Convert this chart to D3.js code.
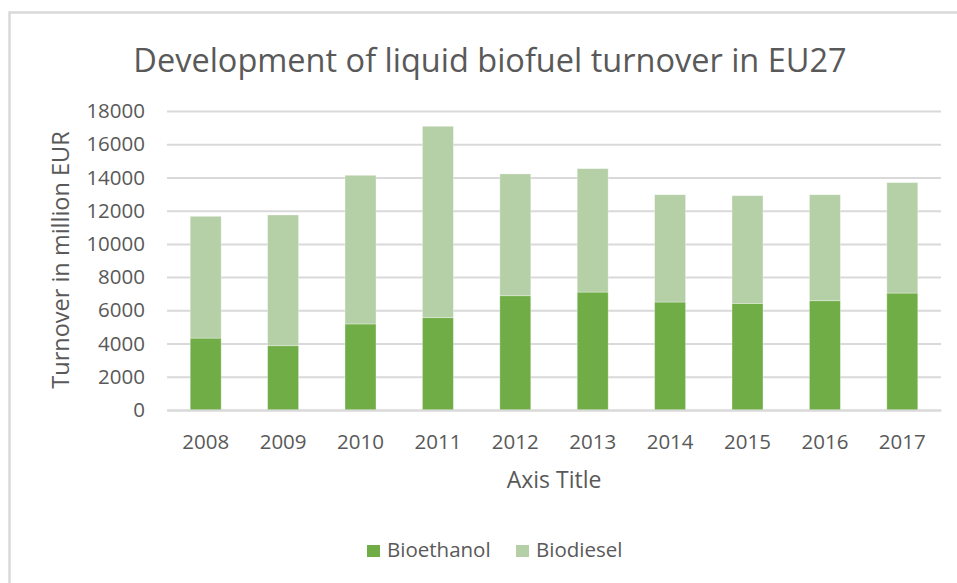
<!DOCTYPE html>
<html>
<head>
<meta charset="utf-8">
<script src="https://cdn.jsdelivr.net/npm/d3@7"></script>
<style>
  body { margin: 0; background: #fff; }
  svg text { font-family: "Open Sans", "Noto Sans", sans-serif; fill: #595959; }
</style>
</head>
<body>
<svg id="chart" width="957" height="583"></svg>
<script>
// data (million EUR)
var years = ["2008", "2009", "2010", "2011", "2012", "2013", "2014", "2015", "2016", "2017"];
var bioethanol = [4330, 3870, 5180, 5560, 6880, 7100, 6500, 6420, 6580, 7040];
var biodiesel = [7330, 7870, 8950, 11520, 7330, 7430, 6460, 6480, 6380, 6650];
var yTicks = [0, 2000, 4000, 6000, 8000, 10000, 12000, 14000, 16000, 18000];
var seriesNames = ["Bioethanol", "Biodiesel"];
var colors = ["#70ad47", "#b5cfa7"];

var svg = d3.select("#chart");

// outer frame (only top and left visible)
svg.append("path")
    .attr("d", "M9.5,583 L9.5,12.5 L957,12.5")
    .attr("fill", "none")
    .attr("stroke", "#d9d9d9")
    .attr("stroke-width", 2.5);

var margin = {top: 111, left: 167, right: 16, bottom: 173};
var width = 957 - margin.left - margin.right;
var height = 583 - margin.top - margin.bottom;

var g = svg.append("g").attr("transform", "translate(" + margin.left + "," + margin.top + ")");

var x = d3.scaleBand().domain(years).range([0, width]).paddingInner(0.6).paddingOuter(0.3);
var y = d3.scaleLinear().domain([0, 18000]).range([height, 0]);

// gridlines
g.append("g")
    .call(d3.axisLeft(y).tickValues(yTicks).tickSize(-width).tickFormat(""))
    .call(function(a) {
        a.select(".domain").remove();
        a.selectAll("line").attr("stroke", "#d9d9d9").attr("stroke-width", 2);
    });

// y tick labels
g.append("g")
    .call(d3.axisLeft(y).tickValues(yTicks).tickSize(0).tickPadding(22).tickFormat(d3.format("d")))
    .call(function(a) {
        a.select(".domain").remove();
        a.selectAll("text").style("font-size", "20.5px").attr("fill", "#595959");
    });

// stacked bars
var rows = years.map(function(yr, i) {
    return {year: yr, Bioethanol: bioethanol[i], Biodiesel: biodiesel[i]};
});
var stack = d3.stack().keys(seriesNames)(rows);

g.selectAll(".series")
    .data(stack)
    .enter().append("g")
    .attr("fill", function(d, i) { return colors[i]; })
    .selectAll("rect")
    .data(function(d) { return d; })
    .enter().append("rect")
    .attr("x", function(d) { return x(d.data.year); })
    .attr("width", x.bandwidth())
    .attr("y", function(d) { return y(d[1]); })
    .attr("height", function(d) { return y(d[0]) - y(d[1]); })
    .attr("stroke", "#fff")
    .attr("stroke-opacity", 0.4)
    .attr("stroke-width", 0.8);

// x axis
g.append("g")
    .attr("transform", "translate(0," + height + ")")
    .call(d3.axisBottom(x).tickSize(0).tickPadding(24))
    .call(function(a) {
        a.select(".domain").attr("stroke", "#d9d9d9").attr("stroke-width", 2);
        a.selectAll("text").style("font-size", "20.5px").attr("fill", "#595959");
    });

// titles
svg.append("text")
    .attr("x", 490).attr("y", 72)
    .attr("text-anchor", "middle")
    .style("font-size", "32.5px")
    .text("Development of liquid biofuel turnover in EU27");

svg.append("text")
    .attr("x", margin.left + width / 2).attr("y", 488)
    .attr("text-anchor", "middle")
    .style("font-size", "23px")
    .text("Axis Title");

svg.append("text")
    .attr("transform", "translate(69,260) rotate(-90)")
    .attr("text-anchor", "middle")
    .style("font-size", "23.5px")
    .text("Turnover in million EUR");

// legend
var legend = svg.append("g").attr("transform", "translate(367,550)");
var items = legend.selectAll("g")
    .data(seriesNames)
    .enter().append("g")
    .attr("transform", function(d, i) { return "translate(" + (i * 149) + ",0)"; });
items.append("rect")
    .attr("x", 0).attr("y", -5)
    .attr("width", 13).attr("height", 12)
    .attr("fill", function(d, i) { return colors[i]; });
items.append("text")
    .attr("x", 20).attr("y", 7)
    .style("font-size", "20.5px")
    .text(function(d) { return d; });
</script>
</body>
</html>
